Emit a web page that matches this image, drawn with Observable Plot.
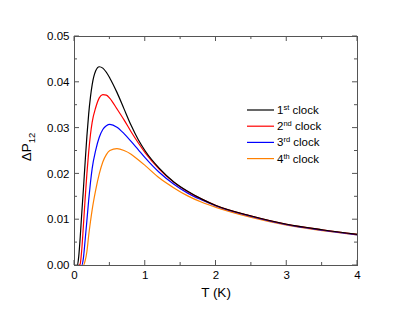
<!DOCTYPE html>
<html><head><meta charset="utf-8">
<script src="https://cdn.jsdelivr.net/npm/d3@7"></script>
<script src="https://cdn.jsdelivr.net/npm/@observablehq/plot@0.6"></script>
<style>body{margin:0;background:#fff;}</style>
</head><body><div id="chart"></div>
<script>
const T = [0, 0.04, 0.06, 0.08, 0.1, 0.125, 0.15, 0.175, 0.2, 0.225, 0.25, 0.3, 0.35, 0.4, 0.45, 0.5, 0.6, 0.7, 0.8, 0.9, 1.0, 1.2, 1.4, 1.6, 1.8, 2.0, 2.5, 3.0, 3.5, 4.0];
const clock1 = [0, 0, 0.002, 0.006, 0.0108, 0.0165, 0.0225, 0.0282, 0.0330, 0.0367, 0.0395, 0.0425, 0.0434, 0.0431, 0.0422, 0.0409, 0.0378, 0.0342, 0.0306, 0.0275, 0.0250, 0.0212, 0.0183, 0.0162, 0.0145, 0.0131, 0.0108, 0.0090, 0.0078, 0.0068];
const clock2 = [0, 0, 0, 0.0003, 0.003, 0.0085, 0.0145, 0.0200, 0.0247, 0.0285, 0.0313, 0.0345, 0.0366, 0.0373, 0.0372, 0.0365, 0.0342, 0.0318, 0.0292, 0.0268, 0.0246, 0.0210, 0.0182, 0.0161, 0.0145, 0.0131, 0.0108, 0.0090, 0.0078, 0.0068];
const clock3 = [0, 0, 0, 0, 0, 0.0015, 0.0055, 0.0098, 0.0142, 0.0180, 0.0212, 0.0252, 0.0280, 0.0297, 0.0305, 0.0308, 0.0302, 0.0288, 0.0271, 0.0253, 0.0235, 0.0203, 0.0178, 0.0158, 0.0143, 0.0130, 0.0107, 0.0089, 0.0077, 0.0067];
const clock4 = [0, 0, 0, 0, 0, 0, 0.001, 0.003, 0.0065, 0.0095, 0.0122, 0.0165, 0.0200, 0.0226, 0.0242, 0.0251, 0.0255, 0.0251, 0.0243, 0.0231, 0.0218, 0.0191, 0.0170, 0.0152, 0.0138, 0.0127, 0.0105, 0.0088, 0.0076, 0.0067];
const seriesNum = ["1", "2", "3", "4"];
const seriesSup = ["st", "nd", "rd", "th"];
const seriesWord = "clock";
const colors = ["#000000", "#ff0000", "#0000ff", "#ff8000"];
const xTicks = [0, 1, 2, 3, 4];
const xMinor = [0.5, 1.5, 2.5, 3.5];
const yTicks = [0, 0.01, 0.02, 0.03, 0.04, 0.05];
const yMinor = [0.005, 0.015, 0.025, 0.035, 0.045];
const xTitle = "T (K)";

const allSeries = [clock1, clock2, clock3, clock4];
const font = "'Liberation Sans', Arial, sans-serif";
const tickCol = "#555";

const lineMarks = allSeries.map((vals, s) =>
  Plot.line(T.map((t, i) => ({T: t, v: vals[i]})), {x: "T", y: "v", stroke: colors[s], strokeWidth: 1.2, curve: "monotone-x"})
).reverse();

const plot = Plot.plot({
  width: 415, height: 318,
  marginLeft: 74, marginRight: 58, marginTop: 36, marginBottom: 53,
  style: {fontFamily: font, fontSize: "11.5px", color: "#000", background: "#fff"},
  x: {domain: [0, 4]},
  y: {domain: [0, 0.05]},
  marks: [
    ...lineMarks,
    Plot.frame({stroke: tickCol}),
    Plot.axisX({anchor: "bottom", ticks: xTicks, tickSize: 0, tickPadding: 5, tickFormat: d => String(d), label: null}),
    Plot.axisY({anchor: "left", ticks: yTicks, tickSize: 0, tickPadding: 5, tickFormat: d3.format(".2f"), label: null}),
    Plot.text([xTitle], {text: d => d, frameAnchor: "bottom", dy: 31, fontSize: 13.5})
  ]
});
document.getElementById("chart").appendChild(plot);

const svg = d3.select(plot);
const sx = plot.scale("x"), sy = plot.scale("y");
const [x0, x1] = sx.range, [y0, y1] = sy.range; // y0 bottom, y1 top
const tg = svg.append("g").attr("stroke", tickCol).attr("stroke-width", 1);
const drawX = (vals, len) => vals.forEach(v => {
  const x = sx.apply(v);
  tg.append("line").attr("x1", x).attr("x2", x).attr("y1", y0).attr("y2", y0 - len);
  tg.append("line").attr("x1", x).attr("x2", x).attr("y1", y1).attr("y2", y1 + len);
});
const drawY = (vals, len) => vals.forEach(v => {
  const y = sy.apply(v);
  tg.append("line").attr("y1", y).attr("y2", y).attr("x1", x0).attr("x2", x0 + len);
  tg.append("line").attr("y1", y).attr("y2", y).attr("x1", x1).attr("x2", x1 - len);
});
drawX(xTicks, 5); drawX(xMinor, 3); drawY(yTicks, 5); drawY(yMinor, 3);

// y-axis title with subscript
const yt = svg.append("text")
  .attr("transform", "translate(31,147) rotate(-90)")
  .attr("text-anchor", "middle")
  .attr("font-family", font).attr("font-size", 13.5).attr("fill", "#000");
yt.append("tspan").text("ΔP");
yt.append("tspan").attr("font-size", 9.5).attr("dy", 3.5).text("12");

// legend
const lg = svg.append("g").attr("font-family", font).attr("font-size", 11.5).attr("text-anchor", "start");
seriesNum.forEach((n, i) => {
  const y = 110 + i * 16.2;
  lg.append("line").attr("x1", 247).attr("x2", 274).attr("y1", y).attr("y2", y)
    .attr("stroke", colors[i]).attr("stroke-width", 1.2);
  const t = lg.append("text").attr("x", 277).attr("y", y).attr("dy", "0.35em").attr("fill", "#000").attr("text-anchor", "start");
  t.append("tspan").text(n);
  t.append("tspan").attr("font-size", 7.5).attr("dy", -4).text(seriesSup[i]);
  t.append("tspan").attr("dy", 4).attr("xml:space", "preserve").text("\u00a0" + seriesWord);
});
</script>
</body></html>
